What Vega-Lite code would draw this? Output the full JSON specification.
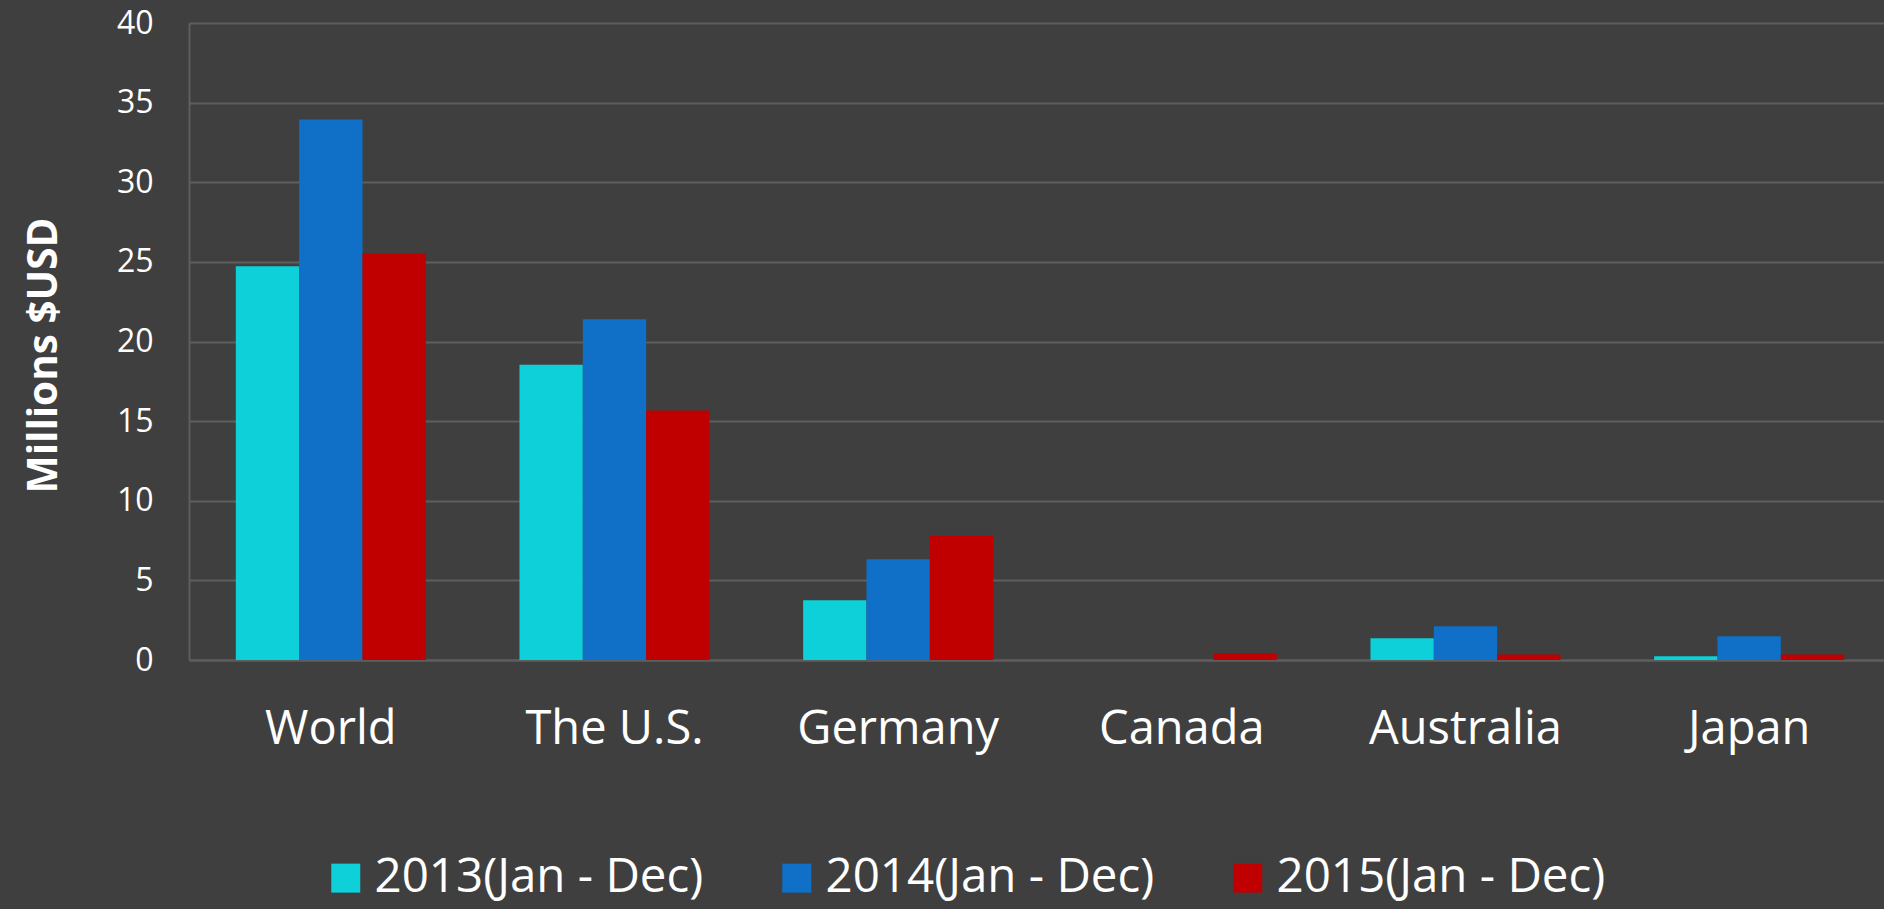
{
  "$schema": "https://vega.github.io/schema/vega-lite/v6.json",
  "autosize": {"type": "none"},
  "width": 1702,
  "height": 637,
  "padding": {"left": 189, "top": 23, "right": 0, "bottom": 249},
  "background": "#3F3F3F",
  "data": {
    "values": [
      {"country": "World", "period": "2013(Jan - Dec)", "value": 24.73},
      {"country": "World", "period": "2014(Jan - Dec)", "value": 33.94},
      {"country": "World", "period": "2015(Jan - Dec)", "value": 25.53},
      {"country": "The U.S.", "period": "2013(Jan - Dec)", "value": 18.54},
      {"country": "The U.S.", "period": "2014(Jan - Dec)", "value": 21.39},
      {"country": "The U.S.", "period": "2015(Jan - Dec)", "value": 15.67},
      {"country": "Germany", "period": "2013(Jan - Dec)", "value": 3.75},
      {"country": "Germany", "period": "2014(Jan - Dec)", "value": 6.32},
      {"country": "Germany", "period": "2015(Jan - Dec)", "value": 7.81},
      {"country": "Canada", "period": "2013(Jan - Dec)", "value": 0},
      {"country": "Canada", "period": "2014(Jan - Dec)", "value": 0},
      {"country": "Canada", "period": "2015(Jan - Dec)", "value": 0.42},
      {"country": "Australia", "period": "2013(Jan - Dec)", "value": 1.36},
      {"country": "Australia", "period": "2014(Jan - Dec)", "value": 2.12},
      {"country": "Australia", "period": "2015(Jan - Dec)", "value": 0.34},
      {"country": "Japan", "period": "2013(Jan - Dec)", "value": 0.23},
      {"country": "Japan", "period": "2014(Jan - Dec)", "value": 1.49},
      {"country": "Japan", "period": "2015(Jan - Dec)", "value": 0.34}
    ]
  },
  "mark": {"type": "bar"},
  "encoding": {
    "x": {
      "field": "country",
      "type": "nominal",
      "sort": ["World", "The U.S.", "Germany", "Canada", "Australia", "Japan"],
      "scale": {"paddingInner": 0.33, "paddingOuter": 0.165},
      "axis": {
        "title": null,
        "labelAngle": 0,
        "labelFont": "Open Sans",
        "labelFontSize": 47,
        "labelColor": "#FFFFFF",
        "labelPadding": 46,
        "labelBaseline": "top",
        "labelLimit": 0,
        "ticks": false,
        "domain": true,
        "domainColor": "#5E5E5E",
        "domainWidth": 2,
        "grid": false
      }
    },
    "xOffset": {
      "field": "period",
      "type": "nominal"
    },
    "y": {
      "field": "value",
      "type": "quantitative",
      "scale": {"domain": [0, 40], "nice": false},
      "axis": {
        "title": "Millions $USD",
        "titleFont": "Open Sans",
        "titleFontSize": 40.5,
        "titleFontWeight": "bold",
        "titleColor": "#FFFFFF",
        "titleAngle": -90,
        "titleX": -145,
        "titleY": 332,
        "titleBaseline": "middle",
        "titleAlign": "center",
        "values": [0, 5, 10, 15, 20, 25, 30, 35, 40],
        "labelFont": "Open Sans",
        "labelFontSize": 32,
        "labelColor": "#FFFFFF",
        "labelPadding": 36,
        "ticks": false,
        "domain": true,
        "domainColor": "#5E5E5E",
        "domainWidth": 2,
        "grid": true,
        "gridColor": "#5E5E5E",
        "gridWidth": 2
      }
    },
    "color": {
      "field": "period",
      "type": "nominal",
      "scale": {
        "domain": ["2013(Jan - Dec)", "2014(Jan - Dec)", "2015(Jan - Dec)"],
        "range": ["#0DD0D8", "#106FC6", "#C00000"]
      },
      "legend": {
        "title": null,
        "orient": "none",
        "direction": "horizontal",
        "legendX": 133,
        "legendY": 831,
        "symbolType": "square",
        "symbolSize": 841,
        "symbolStrokeWidth": 0,
        "symbolOpacity": 1,
        "labelFont": "Open Sans",
        "labelFontSize": 47.5,
        "labelColor": "#FFFFFF",
        "labelOffset": 5,
        "labelLimit": 0,
        "columnPadding": 69
      }
    }
  },
  "config": {
    "view": {"stroke": null}
  }
}
